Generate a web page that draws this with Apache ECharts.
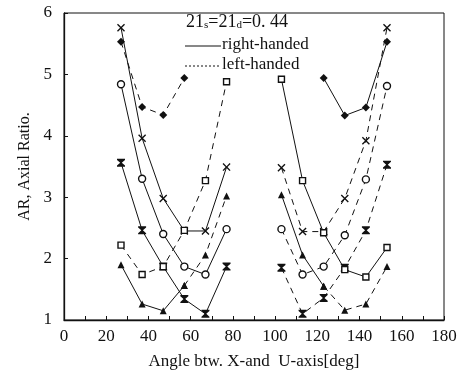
<!DOCTYPE html>
<html>
<head>
<meta charset="utf-8">
<script src="https://cdn.jsdelivr.net/npm/echarts@6/dist/echarts.min.js"></script>
<style>
  html, body { margin: 0; padding: 0; background: #fff; }
  #chart { width: 461px; height: 375px; }
</style>
</head>
<body>
<div id="chart"></div>
<script>
// angles of the computed points, left and right half of the range
const angL = [27, 37, 47, 57, 67, 77];
const angR = [103, 113, 123, 133, 143, 153];

// cross marker
const crossL = [5.76, 3.96, 2.98, 2.45, 2.45, 3.49];
const crossR = [3.48, 2.44, 2.44, 2.98, 3.92, 5.76];
// hourglass marker
const hourL = [3.56, 2.46, 1.87, 1.34, 1.10, 1.87];
const hourR = [1.85, 1.10, 1.36, 1.85, 2.46, 3.53];
// circle marker
const circL = [4.84, 3.30, 2.40, 1.87, 1.74, 2.48];
const circR = [2.48, 1.74, 1.87, 2.38, 3.29, 4.81];
// square marker
const sqL = [2.22, 1.74, 1.87, 2.46, 3.27, 4.88];
const sqR = [4.92, 3.27, 2.42, 1.82, 1.70, 2.18];
// filled diamond marker (only 4 points each side)
const diaAngL = [27, 37, 47, 57];
const diaAngR = [123, 133, 143, 153];
const diaL = [5.53, 4.47, 4.34, 4.94];
const diaR = [4.94, 4.33, 4.46, 5.53];
// triangle marker
const triL = [1.90, 1.26, 1.15, 1.56, 2.06, 3.02];
const triR = [3.04, 2.06, 1.55, 1.16, 1.26, 1.87];

const xTicks = [0, 20, 40, 60, 80, 100, 120, 140, 160, 180];
const yTicks = [1, 2, 3, 4, 5, 6];

const SYM = {
  cross: 'path://M0,1.2L1.2,0L5,3.8L8.8,0L10,1.2L6.2,5L10,8.8L8.8,10L5,6.2L1.2,10L0,8.8L3.8,5Z',
  hour: 'path://M0,0L10,0L10,1.5L6,5L10,8.5L10,10L0,10L0,8.5L4,5L0,1.5Z'
};

function pts(xs, ys) { return xs.map((x, i) => [x, ys[i]]); }

function mk(data, symbol, size, dashed, filled) {
  return {
    type: 'line',
    data: data,
    symbol: symbol,
    symbolSize: size,
    showAllSymbol: true,
    silent: true,
    animation: false,
    lineStyle: { color: '#111', width: 1, type: dashed ? [6, 5] : 'solid' },
    itemStyle: {
      color: filled === false ? '#fff' : '#111',
      borderColor: '#111',
      borderWidth: filled === false ? 1.4 : 0
    },
    z: 3
  };
}

const series = [
  mk(pts(angL, crossL), SYM.cross, 8, false),
  mk(pts(angR, crossR), SYM.cross, 8, true),
  mk(pts(angL, hourL), SYM.hour, 8, false),
  mk(pts(angR, hourR), SYM.hour, 8, true),
  mk(pts(angL, circL), 'circle', 7, false, false),
  mk(pts(angR, circR), 'circle', 7, true, false),
  mk(pts(angL, sqL), 'rect', 6, true, false),
  mk(pts(angR, sqR), 'rect', 6, false, false),
  mk(pts(diaAngL, diaL), 'diamond', 8, true),
  mk(pts(diaAngR, diaR), 'diamond', 8, false),
  // triangle curve changes sense part way
  mk(pts(angL.slice(0, 4), triL.slice(0, 4)), 'triangle', 7, false),
  mk(pts(angL.slice(3), triL.slice(3)), 'triangle', 7, true),
  mk(pts(angR.slice(0, 3), triR.slice(0, 3)), 'triangle', 7, false),
  mk(pts(angR.slice(2), triR.slice(2)), 'triangle', 7, true)
];

const font = '"Liberation Serif", "DejaVu Serif", serif';
const chart = echarts.init(document.getElementById('chart'));

chart.setOption({
  backgroundColor: '#fff',
  animation: false,
  grid: {
    left: 64, right: 17, top: 13, bottom: 52,
    show: true, borderColor: '#111', borderWidth: 1
  },
  xAxis: {
    type: 'value',
    min: xTicks[0], max: xTicks[xTicks.length - 1], interval: 20,
    name: 'Angle btw. X-and  U-axis[deg]',
    nameLocation: 'middle', nameGap: 33,
    nameTextStyle: { fontFamily: font, fontSize: 17, color: '#111' },
    axisLine: { lineStyle: { color: '#111', width: 1.3 } },
    axisTick: { inside: true, length: 4, lineStyle: { color: '#111' } },
    minorTick: { show: true, splitNumber: 2, length: 4, lineStyle: { color: '#111' } },
    axisLabel: { fontFamily: font, fontSize: 17, color: '#111', margin: 8 },
    splitLine: { show: false }
  },
  yAxis: {
    type: 'value',
    min: yTicks[0], max: yTicks[yTicks.length - 1], interval: 1,
    name: 'AR, Axial Ratio.',
    nameLocation: 'middle', nameGap: 28, nameRotate: 90,
    nameTextStyle: { fontFamily: font, fontSize: 16, color: '#111' },
    axisLine: { lineStyle: { color: '#111', width: 1.3 } },
    axisTick: { inside: true, length: 4, lineStyle: { color: '#111' } },
    axisLabel: { fontFamily: font, fontSize: 17, color: '#111', margin: 12 },
    splitLine: { show: false }
  },
  graphic: [
    {
      type: 'text', left: 186, top: 13, z: 10,
      style: {
        text: '{a|21}{s|s}{a|=21}{s|d}{a|=0. 44}',
        rich: {
          a: { fontFamily: font, fontSize: 18, fill: '#111', lineHeight: 22, verticalAlign: 'bottom' },
          s: { fontFamily: font, fontSize: 11, fill: '#111', lineHeight: 15, verticalAlign: 'bottom' }
        }
      }
    },
    { type: 'line', z: 10, shape: { x1: 185, y1: 46, x2: 221, y2: 46 }, style: { stroke: '#111', lineWidth: 1 } },
    { type: 'text', left: 222, top: 36, z: 10, style: { text: 'right-handed', fontFamily: font, fontSize: 17, fill: '#111' } },
    { type: 'line', z: 10, shape: { x1: 185, y1: 66, x2: 221, y2: 66 }, style: { stroke: '#111', lineWidth: 1, lineDash: [2, 2] } },
    { type: 'text', left: 222, top: 56, z: 10, style: { text: 'left-handed', fontFamily: font, fontSize: 17, fill: '#111' } }
  ],
  series: series
});
</script>
</body>
</html>
